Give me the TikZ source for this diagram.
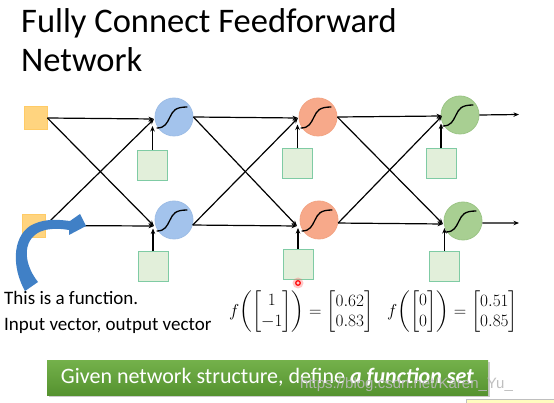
\documentclass[tikz,border=0pt]{standalone}
\usepackage{amsmath}
\usepackage{fontspec}
\setmainfont{Carlito}
\newfontfamily\wmfont{Liberation Sans}
\usetikzlibrary{arrows.meta,shadows}
\definecolor{inpfill}{HTML}{FFD47F}
\definecolor{inpdraw}{HTML}{FFCB66}
\definecolor{biasfill}{HTML}{E2EFDA}
\definecolor{biasdraw}{HTML}{7FCBA4}
\definecolor{bluefill}{HTML}{A3C3EC}
\definecolor{bluedraw}{HTML}{9DBDE6}
\definecolor{orangefill}{HTML}{F7A98A}
\definecolor{orangedraw}{HTML}{F3A483}
\definecolor{greenfill}{HTML}{A8CF92}
\definecolor{greendraw}{HTML}{9BC585}
\definecolor{arrowblue}{HTML}{4080C6}
\definecolor{bannertop}{HTML}{74B14B}
\definecolor{bannerbot}{HTML}{55922F}
\begin{document}
\begin{tikzpicture}[x=1pt,y=-1pt,
  inp/.style={draw=inpdraw,fill=inpfill,line width=0.8pt,minimum size=23pt,inner sep=0pt},
  biasbox/.style={draw=biasdraw,fill=biasfill,line width=1pt,minimum size=30pt,inner sep=0pt},
  neuron/.style={circle,line width=0.8pt,minimum size=38pt,inner sep=0pt},
  conn/.style={line width=1.2pt,-{Stealth[length=5.5pt,width=4.5pt]}},
  sigmoid/.pic={\draw[line width=1.3pt,line cap=round] (-17,11) .. controls (-9,11) and (-7,6) .. (-4,0) .. controls (-1,-6) and (1,-10) .. (13,-10);},
  txt/.style={anchor=base west,inner sep=0pt}
]
\useasboundingbox[fill=white] (0,0) rectangle (554,403);

% title
\node[txt,font=\fontsize{34.5}{39}\selectfont] (t1) at (21,33) {Fully Connect Feedforward};
\node[txt,font=\fontsize{34.5}{39}\selectfont] (t2) at (21,72) {Network};

% inputs
\node[inp] (x1) at (35.5,118) {};
\node[inp] (x2) at (33.5,225.5) {};

% neurons
\node[neuron,fill=bluefill,draw=bluedraw] (h1) at (174,117) {};
\node[neuron,fill=bluefill,draw=bluedraw] (h2) at (174,220) {};
\node[neuron,fill=orangefill,draw=orangedraw] (g1) at (318,117) {};
\node[neuron,fill=orangefill,draw=orangedraw] (g2) at (319,220) {};
\node[neuron,fill=greenfill,draw=greendraw] (o1) at (460,115) {};
\node[neuron,fill=greenfill,draw=greendraw] (o2) at (463,221) {};
\foreach \n in {h1,h2,g1,g2,o1,o2} \pic at (\n) {sigmoid};

% biases
\node[biasbox] (b11) at (152.5,165.5) {};
\node[biasbox] (b12) at (153,267) {};
\node[biasbox] (b21) at (297.5,164) {};
\node[biasbox] (b22) at (298,264.5) {};
\node[biasbox] (b31) at (441,164) {};
\node[biasbox] (b32) at (444.5,266.5) {};

% convergence points
\coordinate (h1in) at (154,119);
\coordinate (h2in) at (154,226);
\coordinate (g1in) at (298,118);
\coordinate (g2in) at (297,226);
\coordinate (o1in) at (442,116);
\coordinate (o2in) at (443,224);
\coordinate (y1) at (519,114.5);
\coordinate (y2) at (519,223);

% connections layer 0 -> 1
\draw[conn] (x1.east) -- (h1in);
\draw[conn] (x1.east) -- (h2in);
\draw[conn] (x2.east) -- (h1in);
\draw[conn] (x2.east) -- (h2in);
% layer 1 -> 2
\draw[conn] (h1.east) -- (g1in);
\draw[conn] (h1.east) -- (g2in);
\draw[conn] (h2.-15) -- (g1in);
\draw[conn] (h2.-15) -- (g2in);
% layer 2 -> 3
\draw[conn] (g1.east) -- (o1in);
\draw[conn] (g1.east) -- (o2in);
\draw[conn] (g2.-9) -- (o1in);
\draw[conn] (g2.-9) -- (o2in);
% outputs
\draw[conn] (o1.east) -- (y1);
\draw[conn] (o2.-6) -- (y2);
% biases
\draw[conn] (b11.north) -- ++(0,-24);
\draw[conn] (b12.north) -- ++(0,-23);
\draw[conn] (b21.north) -- ++(0,-24);
\draw[conn] (b22.north) -- ++(0,-21);
\draw[conn] (b31.north) -- ++(0,-25);
\draw[conn] (b32.north) -- ++(0,-23);

% curved blue arrow
\fill[arrowblue] (38,282) .. controls (22,262) and (22,236) .. (45,230)
  .. controls (55,228) and (63,229) .. (69,230) -- (69,235) -- (86,226) -- (80,214) -- (70,221)
  .. controls (55,219) and (42,219) .. (30,226)
  .. controls (12,238) and (12,268) .. (25,291) -- cycle;

% texts
\node[txt,font=\fontsize{19}{22}\selectfont] (d1) at (4,305) {This is a function.};
\node[txt,font=\fontsize{19}{22}\selectfont] (d2) at (4,330) {Input vector, output vector};

\node[anchor=west,inner sep=0pt,font=\fontsize{17}{20}\selectfont] (m1) at (229,312)
  {$f\biggl(\begin{bmatrix}1\\-1\end{bmatrix}\biggr)=\begin{bmatrix}0.62\\0.83\end{bmatrix}$};
\node[anchor=west,inner sep=0pt,font=\fontsize{17}{20}\selectfont] (m2) at (387,312)
  {$f\biggl(\begin{bmatrix}0\\0\end{bmatrix}\biggr)=\begin{bmatrix}0.51\\0.85\end{bmatrix}$};

% red pointer
\fill[red!60,opacity=0.35] (298,283) circle (5.5);
\draw[red,line width=1.2pt] (298,283) circle (2.3);

% banner
\node[minimum width=441pt,minimum height=35pt,inner sep=0pt,top color=bannertop,bottom color=bannerbot,
  drop shadow={shadow xshift=1.5pt,shadow yshift=-1.5pt,opacity=0.4},text=white,
  font=\fontsize{22}{26}\selectfont] (banner) at (267.5,377.5)
  {Given network structure, define \textbf{\textit{a function set}}};

% watermark
\node[txt,font=\wmfont\fontsize{15}{18}\selectfont,text=gray!55,opacity=0.9] (wm) at (300,388) {https://blog.csdn.net/Karen\_Yu\_};

% yellow strip
\draw[draw=gray!50,fill=yellow!25] (466,399) rectangle (560,410);
\end{tikzpicture}
\end{document}
